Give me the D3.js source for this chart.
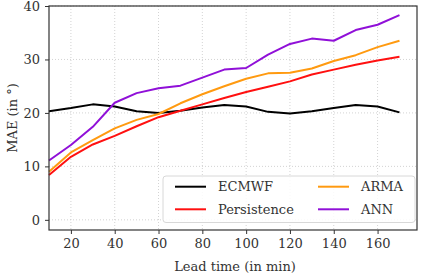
<!DOCTYPE html>
<html>
<head>
<meta charset="utf-8">
<script src="https://cdn.jsdelivr.net/npm/d3@7"></script>
<style>
  body { margin: 0; background: #fff; }
  svg text { font-family: 'DejaVu Serif', serif; }
</style>
</head>
<body>
<div id="chart"></div>
<script>
// lead times (min)
const leadTimes = [10, 20, 30, 40, 50, 60, 70, 80, 90, 100, 110, 120, 130, 140, 150, 160, 170];

const ecmwf = [20.3, 20.9, 21.6, 21.2, 20.3, 20.0, 20.4, 21.0, 21.5, 21.2, 20.2, 19.9, 20.3, 20.9, 21.5, 21.2, 20.1];
const persistence = [8.4, 11.8, 14.1, 15.7, 17.5, 19.2, 20.4, 21.6, 22.8, 23.9, 24.9, 25.9, 27.2, 28.1, 29.0, 29.8, 30.5];
const arma = [9.0, 12.6, 14.9, 17.1, 18.7, 19.8, 21.8, 23.5, 25.0, 26.4, 27.4, 27.5, 28.3, 29.7, 30.8, 32.3, 33.5];
const ann = [11.1, 14.0, 17.4, 21.9, 23.7, 24.6, 25.1, 26.6, 28.1, 28.4, 30.9, 32.9, 33.9, 33.5, 35.5, 36.5, 38.3];

const seriesNames = ['ECMWF', 'Persistence', 'ARMA', 'ANN'];
const seriesColors = ['#000000', '#ff1010', '#ff9a10', '#9010d8'];
const seriesValues = [ecmwf, persistence, arma, ann];

const xTicks = [20, 40, 60, 80, 100, 120, 140, 160];
const yTicks = [0, 10, 20, 30, 40];

const width = 426, height = 276;
const margin = {top: 6, right: 9, bottom: 46, left: 49};
const fontSize = 13;
const serif = "'DejaVu Serif', serif";

const svg = d3.select('#chart').append('svg')
  .attr('width', width)
  .attr('height', height)
  .attr('font-family', serif)
  .attr('font-size', fontSize);

const x = d3.scaleLinear().domain([10, 178]).range([margin.left, width - margin.right]);
const y = d3.scaleLinear().domain([-1.9, 40]).range([height - margin.bottom, margin.top]);

// grid
const grid = svg.append('g')
  .attr('stroke', '#c8c8c8')
  .attr('stroke-width', 0.8)
  .attr('stroke-dasharray', '1,2');
grid.selectAll('line.gx')
  .data(xTicks)
  .enter().append('line')
    .attr('x1', d => x(d)).attr('x2', d => x(d))
    .attr('y1', margin.top).attr('y2', height - margin.bottom);
grid.selectAll('line.gy')
  .data(yTicks)
  .enter().append('line')
    .attr('y1', d => y(d)).attr('y2', d => y(d))
    .attr('x1', margin.left).attr('x2', width - margin.right);

// series
const line = d3.line()
  .x((d, i) => x(leadTimes[i]))
  .y(d => y(d));

svg.append('g')
  .attr('fill', 'none')
  .attr('stroke-width', 2)
  .attr('stroke-linejoin', 'round')
.selectAll('path')
  .data(seriesValues)
  .enter().append('path')
    .attr('stroke', (d, i) => seriesColors[i])
    .attr('d', line);

// axes
const xAxis = svg.append('g')
  .attr('transform', `translate(0,${height - margin.bottom})`)
  .call(d3.axisBottom(x).tickValues(xTicks).tickSize(4).tickPadding(5));
const yAxis = svg.append('g')
  .attr('transform', `translate(${margin.left},0)`)
  .call(d3.axisLeft(y).tickValues(yTicks).tickSize(4).tickPadding(5));

[xAxis, yAxis].forEach(a => {
  a.attr('font-family', serif).attr('font-size', fontSize);
  a.select('.domain').remove();
  a.selectAll('.tick line').attr('stroke', '#333');
  a.selectAll('.tick text').attr('fill', '#333');
});

// frame
svg.append('rect')
  .attr('x', margin.left)
  .attr('y', margin.top)
  .attr('width', width - margin.left - margin.right)
  .attr('height', height - margin.top - margin.bottom)
  .attr('fill', 'none')
  .attr('stroke', '#333')
  .attr('stroke-width', 1.2);

// axis labels
svg.append('text')
  .attr('x', 235)
  .attr('y', 271)
  .attr('text-anchor', 'middle')
  .attr('fill', '#333')
  .text('Lead time (in min)');

svg.append('text')
  .attr('transform', `translate(17,${(margin.top + height - margin.bottom) / 2}) rotate(-90)`)
  .attr('text-anchor', 'middle')
  .attr('fill', '#333')
  .text('MAE (in °)');

// legend
const legend = svg.append('g');
legend.append('rect')
  .attr('x', 163).attr('y', 176)
  .attr('width', 252).attr('height', 46.5)
  .attr('rx', 3)
  .attr('fill', 'rgba(255,255,255,0.85)')
  .attr('stroke', '#d8d8d8')
  .attr('stroke-width', 1);

const legendPos = [
  {x: 175, y: 186.7}, {x: 175, y: 209.3},
  {x: 318, y: 186.7}, {x: 318, y: 209.3}
];

const item = legend.selectAll('g.item')
  .data(seriesNames)
  .enter().append('g')
    .attr('class', 'item')
    .attr('transform', (d, i) => `translate(${legendPos[i].x},${legendPos[i].y})`);
item.append('line')
  .attr('x1', 0).attr('x2', 31)
  .attr('stroke', (d, i) => seriesColors[i])
  .attr('stroke-width', 2);
item.append('text')
  .attr('x', 43)
  .attr('dy', '0.33em')
  .attr('fill', '#333')
  .text(d => d);
</script>
</body>
</html>
